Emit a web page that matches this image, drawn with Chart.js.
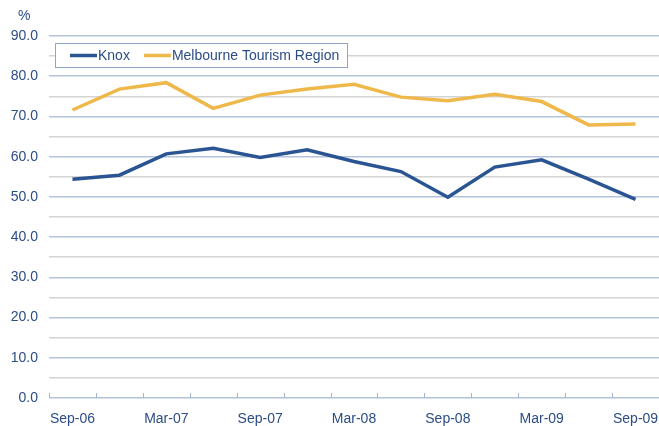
<!DOCTYPE html>
<html>
<head>
<meta charset="utf-8">
<script src="https://cdn.jsdelivr.net/npm/chart.js@4"></script>
<style>
  html, body { margin: 0; padding: 0; background: #fff; }
  #wrap { width: 659px; height: 426px; }
</style>
</head>
<body>
<div id="wrap"><canvas id="myChart" width="659" height="426"></canvas></div>
<script>
// quarterly, Sep-06 to Sep-09
const quarters = ["Sep-06", "Dec-06", "Mar-07", "Jun-07", "Sep-07", "Dec-07", "Mar-08",
                  "Jun-08", "Sep-08", "Dec-08", "Mar-09", "Jun-09", "Sep-09"];
const knox = [54.4, 55.4, 60.7, 62.1, 59.8, 61.7, 58.8, 56.3, 49.9, 57.4, 59.2, 54.4, 49.4];
const melbourne = [71.6, 76.8, 78.4, 72.0, 75.3, 76.8, 78.0, 74.8, 73.9, 75.5, 73.7, 67.9, 68.1];
const seriesNames = ["Knox", "Melbourne Tourism Region"];
const yUnit = "%";

const textColor = "#2b4c86";
const fontFam = "'Liberation Sans', Arial, sans-serif";

// tick marks pointing up into the plot, at category boundaries
const innerTicks = {
    id: "innerTicks",
    afterDatasetsDraw(chart) {
        const x = chart.scales.x;
        const ctx = chart.ctx;
        const bottom = chart.chartArea.bottom;
        ctx.save();
        ctx.strokeStyle = "#9fb3d1";
        ctx.lineWidth = 1;
        const step = (x.getPixelForValue(1) - x.getPixelForValue(0));
        for (let i = 0; i <= quarters.length; i++) {
            const px = Math.round(x.getPixelForValue(i) - step / 2) + 0.5;
            ctx.beginPath();
            ctx.moveTo(px, bottom);
            ctx.lineTo(px, bottom - 5);
            ctx.stroke();
        }
        ctx.restore();
    }
};

// "%" label and the boxed legend
const extras = {
    id: "extras",
    afterDraw(chart) {
        const ctx = chart.ctx;
        ctx.save();
        ctx.font = "14px " + fontFam;
        ctx.fillStyle = textColor;
        ctx.textBaseline = "middle";
        ctx.fillText(yUnit, 18, 16);

        const bx = 55.5, by = 43.5, bw = 292, bh = 24;
        ctx.fillStyle = "#fff";
        ctx.fillRect(bx, by, bw, bh);
        ctx.strokeStyle = "#8fa6c8";
        ctx.lineWidth = 1;
        ctx.strokeRect(bx, by, bw, bh);

        let lx = 70;
        chart.data.datasets.forEach((ds) => {
            ctx.strokeStyle = ds.borderColor;
            ctx.lineWidth = 3.5;
            ctx.beginPath();
            ctx.moveTo(lx, by + bh / 2);
            ctx.lineTo(lx + 27, by + bh / 2);
            ctx.stroke();
            ctx.fillStyle = textColor;
            ctx.fillText(ds.label, lx + 28, by + bh / 2 + 1);
            lx += 28 + ctx.measureText(ds.label).width + 14;
        });
        ctx.restore();
    }
};

const config = {
    type: "line",
    data: {
        labels: quarters,
        datasets: [
            { label: seriesNames[0], data: knox, borderColor: "#2a5592" },
            { label: seriesNames[1], data: melbourne, borderColor: "#efb84b" }
        ]
    },
    options: {
        responsive: false,
        animation: false,
        layout: { padding: { left: 0, right: 0, top: 36, bottom: 0 } },
        elements: {
            line: { borderWidth: 3.5, tension: 0, borderJoinStyle: "miter" },
            point: { radius: 0 }
        },
        plugins: {
            legend: { display: false },
            tooltip: { enabled: false }
        },
        scales: {
            x: {
                offset: true,
                grid: { display: false, drawTicks: false },
                border: { display: false },
                afterFit: (s) => { s.paddingLeft = 0; s.paddingRight = 0; s.height = 28; },
                ticks: {
                    color: textColor,
                    font: { family: fontFam, size: 14 },
                    padding: 13,
                    maxRotation: 0,
                    autoSkip: false,
                    callback: (v, i) => (i % 2 === 0 ? quarters[i] : "")
                }
            },
            y: {
                min: 0,
                max: 90,
                border: { display: false },
                afterFit: (s) => { s.width = 49; s.paddingTop = 0; s.paddingBottom = 0; },
                grid: {
                    drawTicks: false,
                    lineWidth: 1.5,
                    color: (c) => (c.tick && c.tick.value % 10 === 0 ? "#b3c3db" : "#d4d4d4")
                },
                ticks: {
                    stepSize: 5,
                    autoSkip: false,
                    color: textColor,
                    font: { family: fontFam, size: 14 },
                    padding: 11,
                    callback: (v) => (v % 10 === 0 ? v.toFixed(1) : "")
                }
            }
        }
    },
    plugins: [innerTicks, extras]
};

const myChart = new Chart(document.getElementById("myChart").getContext("2d"), config);
</script>
</body>
</html>
